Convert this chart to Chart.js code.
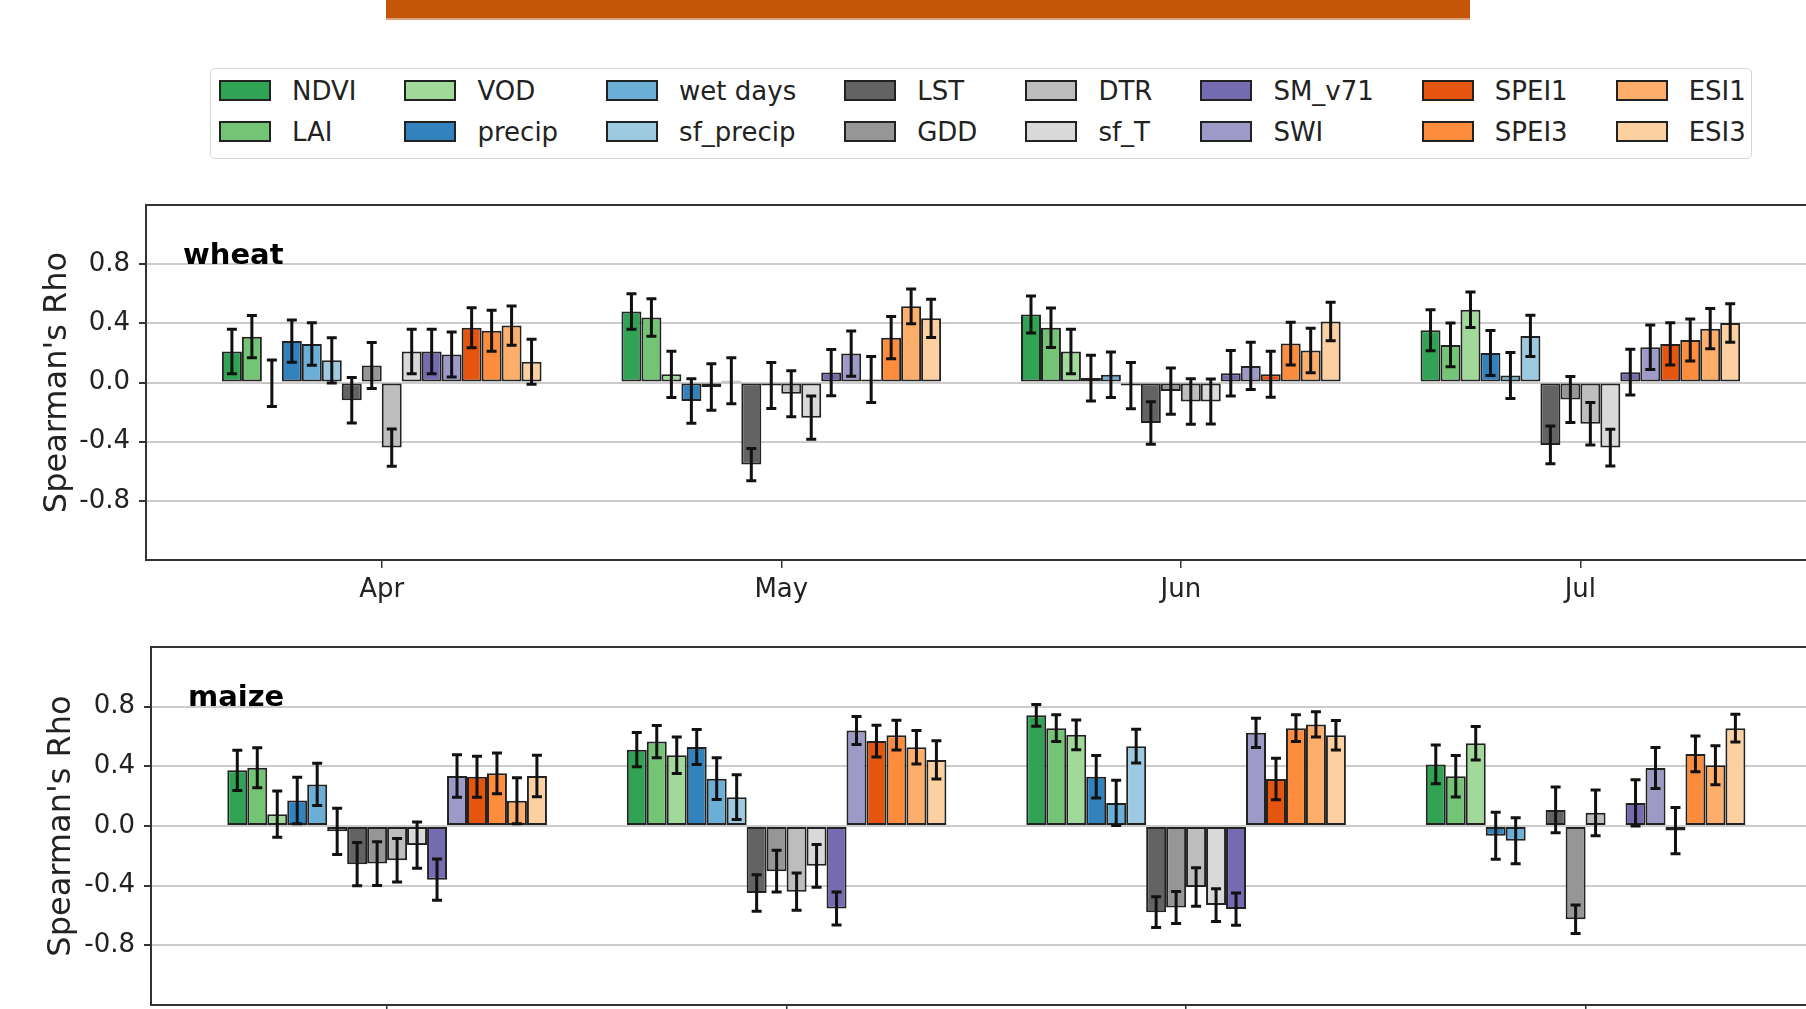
<!DOCTYPE html>
<html>
<head>
<meta charset="utf-8">
<script src="https://cdn.jsdelivr.net/npm/chart.js@4.4.1/dist/chart.umd.min.js"></script>
<style>
  html, body { margin: 0; padding: 0; overflow: hidden; background: #fff; }
  #page { position: relative; width: 1806px; height: 1009px; overflow: hidden; font-family: "DejaVu Sans", sans-serif; color: #222; }
  #titleBar { position: absolute; left: 386px; top: 0; width: 1084px; height: 18px; background: #c4560a; border-bottom: 2px solid #dca27c; }
  #legend { position: absolute; left: 210px; top: 68px; width: 1542px; height: 91px; box-sizing: border-box; border: 1.5px solid #d6d6d6; border-radius: 5px; padding: 1px 0 0 8px; display: flex; gap: 48px; background: #fff; }
  .col { display: flex; flex-direction: column; }
  .item { height: 41px; display: flex; align-items: center; font-size: 26px; white-space: nowrap; }
  .swatch { width: 52px; height: 21px; box-sizing: border-box; border: 2px solid #222; margin-right: 21px; }
  canvas { position: absolute; left: 0; }
  #wheatChart { top: 170px; }
  #maizeChart { top: 620px; }
</style>
</head>
<body>
<div id="page">
  <div id="titleBar"></div>
  <div id="legend"></div>
  <canvas id="wheatChart" width="1900" height="450"></canvas>
  <canvas id="maizeChart" width="1900" height="460"></canvas>
</div>
<script>
const months = ["Apr", "May", "Jun", "Jul"];
const seriesNames = ["NDVI", "LAI", "VOD", "precip", "wet days", "sf_precip", "LST", "GDD",
  "DTR", "sf_T", "SM_v71", "SWI", "SPEI1", "SPEI3", "ESI1", "ESI3"];
const yTicks = [-0.8, -0.4, 0.0, 0.4, 0.8];

// rows = months, columns = series (same order as seriesNames)
const wheatRho = [
  [0.21, 0.31, -0.005, 0.28, 0.26, 0.15, -0.12, 0.115, -0.44, 0.21, 0.21, 0.19, 0.37, 0.35, 0.385, 0.14],
  [0.48, 0.44, 0.055, -0.125, -0.03, 0.012, -0.555, -0.02, -0.076, -0.238, 0.067, 0.196, 0.02, 0.303, 0.515, 0.434],
  [0.46, 0.37, 0.21, 0.03, 0.052, -0.021, -0.274, -0.058, -0.128, -0.128, 0.063, 0.112, 0.056, 0.263, 0.216, 0.413],
  [0.353, 0.254, 0.492, 0.2, 0.047, 0.315, -0.422, -0.115, -0.279, -0.44, 0.07, 0.238, 0.261, 0.288, 0.364, 0.402],
];
const wheatErr = [
  [0.15, 0.143, 0.157, 0.143, 0.144, 0.153, 0.153, 0.155, 0.126, 0.15, 0.15, 0.152, 0.135, 0.138, 0.133, 0.152],
  [0.12, 0.127, 0.156, 0.15, 0.157, 0.156, 0.109, 0.156, 0.156, 0.146, 0.156, 0.153, 0.156, 0.143, 0.117, 0.129],
  [0.125, 0.134, 0.15, 0.155, 0.154, 0.157, 0.144, 0.156, 0.154, 0.152, 0.154, 0.16, 0.156, 0.145, 0.15, 0.13],
  [0.138, 0.148, 0.12, 0.152, 0.155, 0.139, 0.128, 0.155, 0.144, 0.124, 0.154, 0.15, 0.143, 0.142, 0.136, 0.13],
];
const maizeRho = [
  [0.373, 0.391, 0.079, 0.171, 0.279, -0.036, -0.256, -0.252, -0.229, -0.128, -0.36, 0.335, 0.33, 0.353, 0.169, 0.335],
  [0.512, 0.566, 0.474, 0.53, 0.317, 0.193, -0.449, -0.303, -0.44, -0.267, -0.553, 0.64, 0.569, 0.609, 0.528, 0.443],
  [0.742, 0.656, 0.611, 0.33, 0.155, 0.535, -0.578, -0.546, -0.409, -0.53, -0.557, 0.625, 0.315, 0.656, 0.681, 0.609],
  [0.413, 0.333, 0.555, -0.065, -0.099, null, 0.108, -0.625, 0.088, null, 0.155, 0.389, -0.031, 0.483, 0.407, 0.656],
];
const maizeErr = [
  [0.135, 0.134, 0.155, 0.156, 0.142, 0.155, 0.145, 0.147, 0.146, 0.155, 0.138, 0.142, 0.138, 0.136, 0.154, 0.139],
  [0.115, 0.108, 0.122, 0.117, 0.14, 0.15, 0.122, 0.14, 0.125, 0.143, 0.11, 0.094, 0.106, 0.1, 0.113, 0.128],
  [0.073, 0.09, 0.099, 0.142, 0.151, 0.113, 0.103, 0.107, 0.129, 0.11, 0.108, 0.098, 0.139, 0.09, 0.085, 0.099],
  [0.13, 0.139, 0.112, 0.158, 0.154, null, 0.153, 0.096, 0.154, null, 0.155, 0.138, 0.155, 0.12, 0.131, 0.093],
];

const palette = ["#31a354", "#74c476", "#a1d99b", "#3182bd", "#6baed6", "#9ecae1", "#636363", "#969696",
  "#bdbdbd", "#d9d9d9", "#756bb1", "#9e9ac8", "#e6550d", "#fd8d3c", "#fdae6b", "#fdd0a2"];
const FONT = "DejaVu Sans";
const TEXT = "#222";

// legend, two rows filled column by column
const legendEl = document.querySelector("#legend");
for (let c = 0; c < seriesNames.length / 2; c++) {
  const col = document.createElement("div");
  col.className = "col";
  [2 * c, 2 * c + 1].forEach((s) => {
    const item = document.createElement("div");
    item.className = "item";
    item.innerHTML = `<span class="swatch" style="background:${palette[s]}"></span><span>${seriesNames[s]}</span>`;
    col.appendChild(item);
  });
  legendEl.appendChild(col);
}

const errorBars = {
  id: "errorBars",
  afterDatasetsDraw(chart) {
    const { ctx } = chart;
    const y = chart.scales.y;
    ctx.save();
    ctx.strokeStyle = "#111";
    ctx.lineWidth = 3;
    chart.data.datasets.forEach((ds, d) => {
      chart.getDatasetMeta(d).data.forEach((bar, i) => {
        const v = ds.data[i].y;
        const e = ds.errors[i];
        if (v === null || e === null) return;
        const top = y.getPixelForValue(v + e);
        const bot = y.getPixelForValue(v - e);
        ctx.beginPath();
        ctx.moveTo(bar.x, top);
        ctx.lineTo(bar.x, bot);
        ctx.moveTo(bar.x - 5, top);
        ctx.lineTo(bar.x + 5, top);
        ctx.moveTo(bar.x - 5, bot);
        ctx.lineTo(bar.x + 5, bot);
        ctx.stroke();
      });
    });
    ctx.restore();
  },
};

const frame = {
  id: "frame",
  afterDatasetsDraw(chart) {
    const { ctx, chartArea: a } = chart;
    ctx.save();
    ctx.strokeStyle = "#333";
    ctx.lineWidth = 2;
    ctx.strokeRect(a.left, a.top, a.right - a.left, a.bottom - a.top);
    ctx.restore();
  },
};

const panelLabel = {
  id: "panelLabel",
  afterDraw(chart, args, opts) {
    const { ctx, chartArea: a } = chart;
    ctx.save();
    ctx.font = `bold 29px "${FONT}"`;
    ctx.fillStyle = "#000";
    ctx.textBaseline = "alphabetic";
    ctx.fillText(opts.text, a.left + 37, a.top + 59);
    ctx.restore();
  },
};

const makePanel = (canvasId, label, rho, err, layout) => {
  const datasets = seriesNames.map((name, s) => ({
    label: name,
    data: months.map((m, i) => ({ x: i, y: rho[i][s] })),
    errors: months.map((m, i) => err[i][s]),
    backgroundColor: palette[s],
    borderColor: "#222",
    borderWidth: 2,
    borderSkipped: false,
    categoryPercentage: 0.8,
    barPercentage: 1.0,
  }));

  return new Chart(document.getElementById(canvasId), {
    type: "bar",
    data: { datasets },
    options: {
      responsive: false,
      animation: false,
      layout: { padding: { top: layout.padTop, left: 0, right: 0, bottom: 0 } },
      plugins: {
        legend: { display: false },
        tooltip: { enabled: false },
        panelLabel: { text: label },
      },
      scales: {
        x: {
          type: "linear",
          min: layout.xMin,
          max: layout.xMax,
          offset: false,
          afterBuildTicks: (scale) => {
            scale.ticks = months.map((m, i) => ({ value: i }));
          },
          afterFit: (scale) => {
            scale.height = layout.xAxisHeight;
          },
          ticks: {
            autoSkip: false,
            maxRotation: 0,
            padding: 7,
            color: TEXT,
            font: { family: FONT, size: 26 },
            callback: (v) => months[v],
          },
          grid: {
            offset: false,
            drawOnChartArea: false,
            drawTicks: true,
            tickLength: 8,
            tickColor: "#333",
            lineWidth: 1.5,
          },
          border: { display: false },
        },
        y: {
          min: -1.2,
          max: 1.2,
          afterBuildTicks: (scale) => {
            scale.ticks = yTicks.map((v) => ({ value: v }));
          },
          afterFit: (scale) => {
            scale.width = layout.yAxisWidth;
          },
          ticks: {
            padding: 9,
            color: TEXT,
            font: { family: FONT, size: 26 },
            callback: (v) => v.toFixed(1),
          },
          grid: {
            color: "#cccccc",
            lineWidth: 2,
            drawTicks: true,
            tickLength: 7,
            tickColor: "#333",
          },
          border: { display: false },
          title: {
            display: true,
            text: "Spearman's Rho",
            color: TEXT,
            font: { family: FONT, size: 32 },
            padding: { top: layout.titlePad, bottom: 0 },
          },
        },
      },
    },
    plugins: [errorBars, frame, panelLabel],
  });
};

makePanel("wheatChart", "wheat", wheatRho, wheatErr, {
  padTop: 35, xAxisHeight: 60, yAxisWidth: 146, xMin: -0.59, xMax: 3.8, titlePad: 38,
});
makePanel("maizeChart", "maize", maizeRho, maizeErr, {
  padTop: 27, xAxisHeight: 75, yAxisWidth: 151, xMin: -0.591, xMax: 3.787, titlePad: 42,
});
</script>
</body>
</html>
